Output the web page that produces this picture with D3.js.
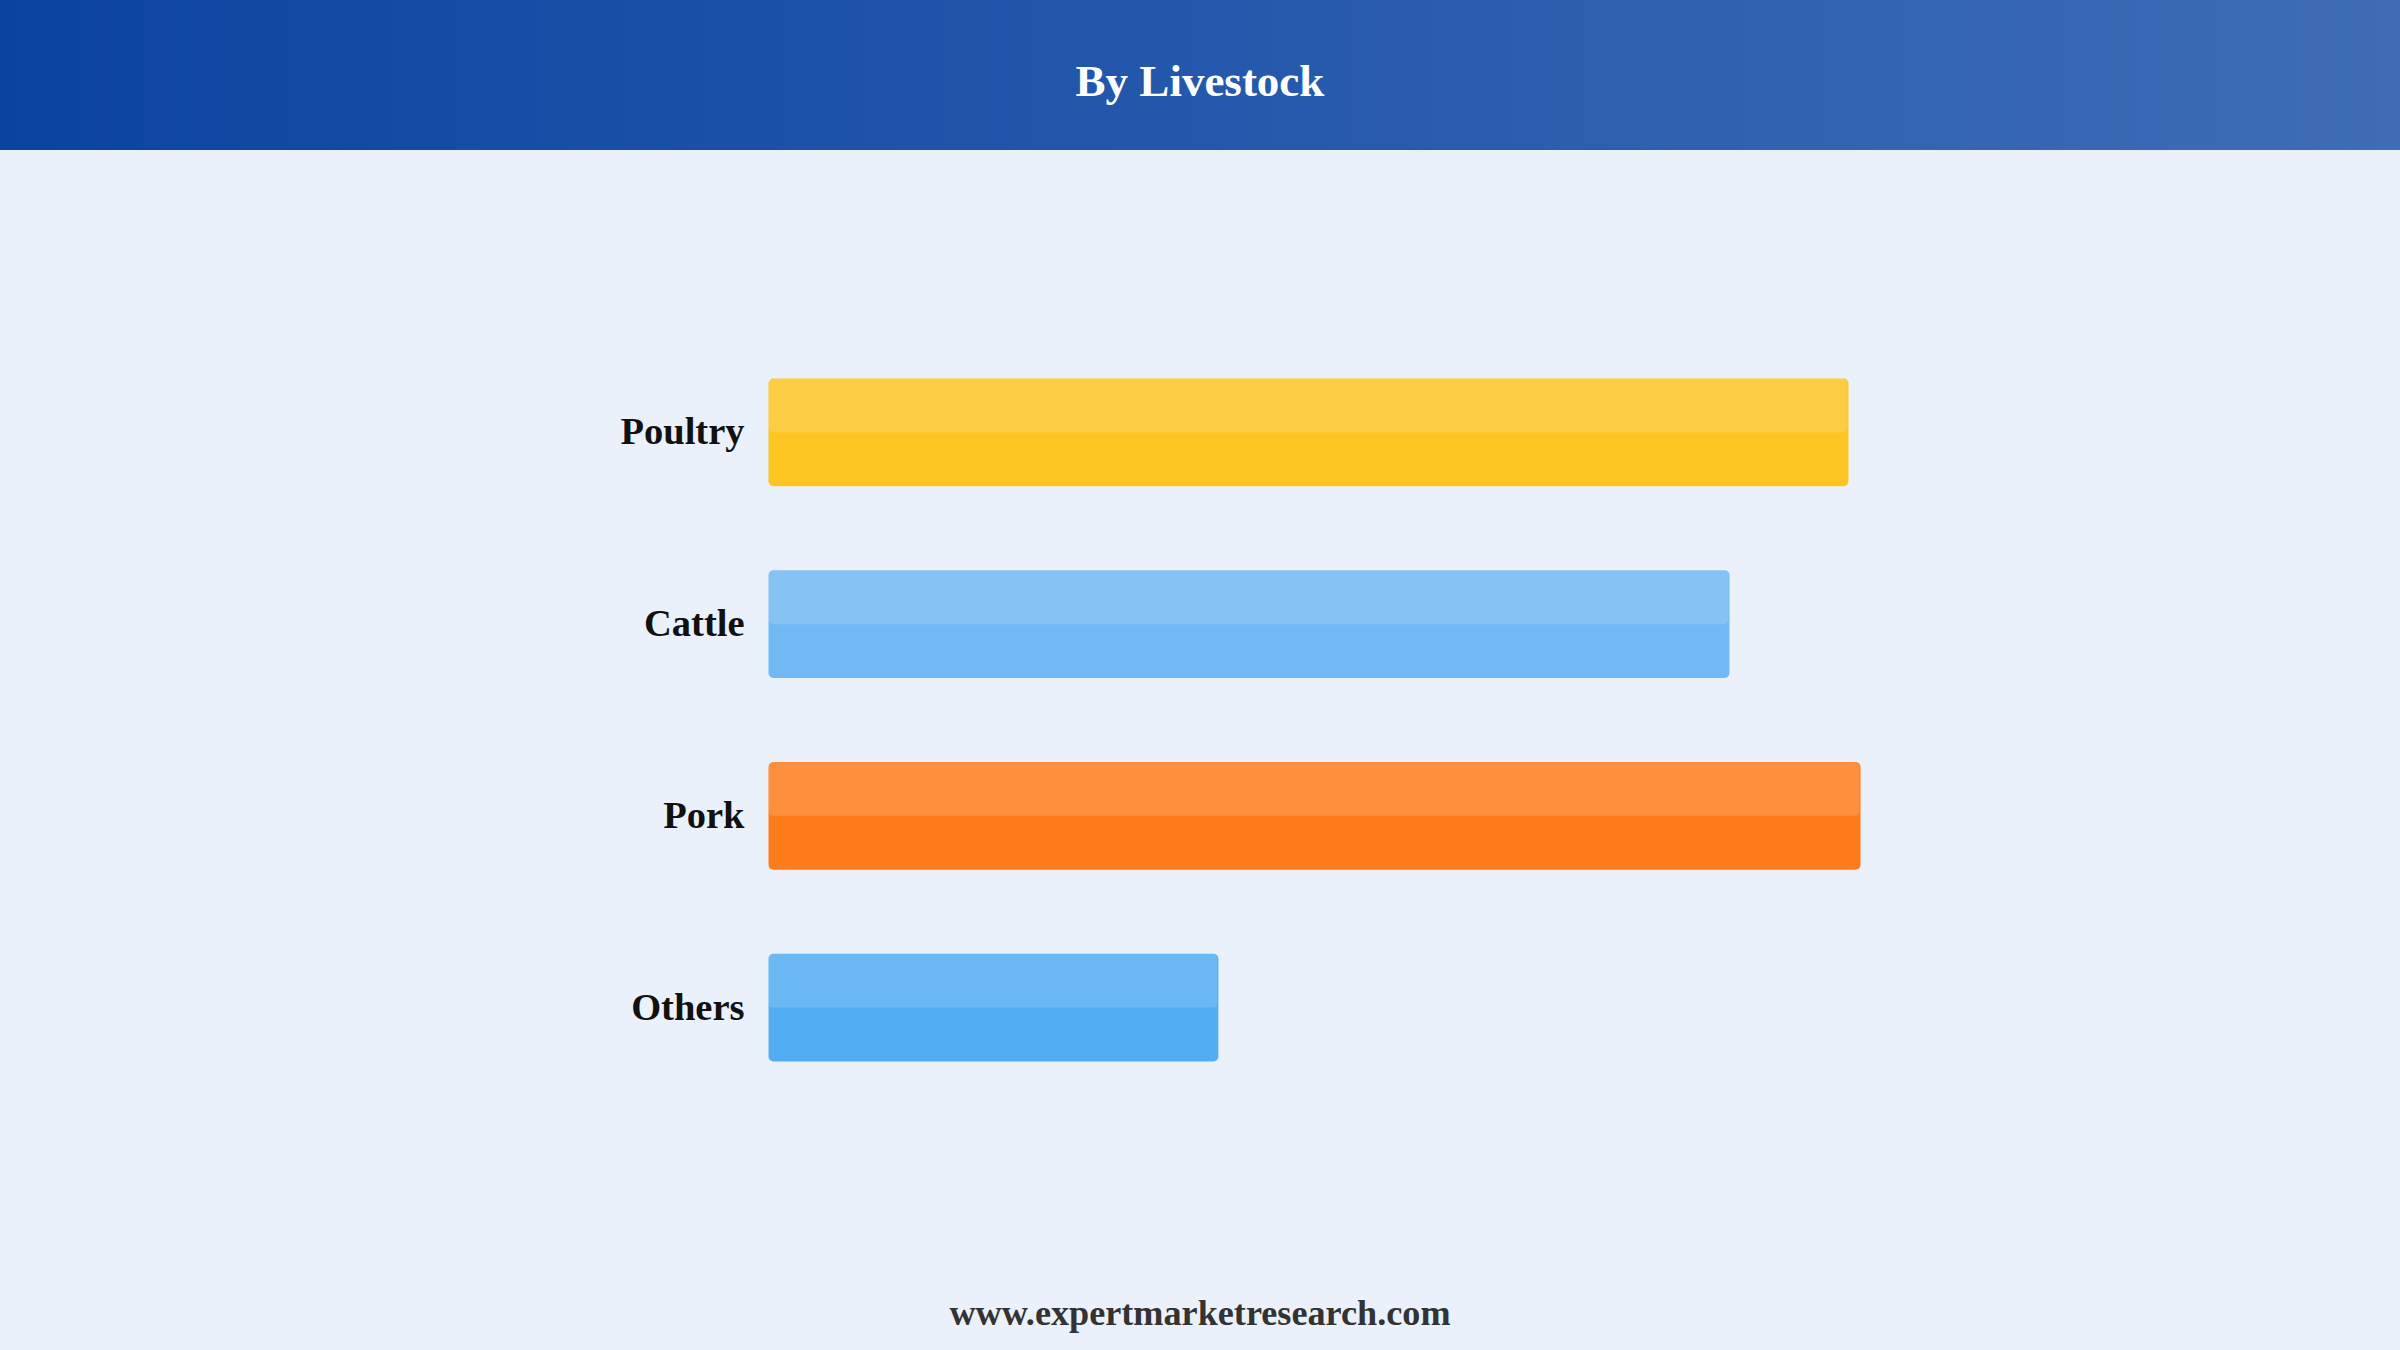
<!DOCTYPE html>
<html>
<head>
<meta charset="utf-8">
<script src="https://cdn.jsdelivr.net/npm/d3@7/dist/d3.min.js"></script>
<style>
  html, body { margin: 0; padding: 0; background: #eaf1fb; }
  svg { display: block; }
</style>
</head>
<body>
<svg id="chart" width="2400" height="1350"></svg>
<script>
const categories = ["Poultry", "Cattle", "Pork", "Others"];
const values = [98.9, 88.0, 100.0, 41.2];
const baseColors = ["#fcc521", "#71b9f4", "#fe7c1a", "#52adf3"];
const titleText = "By Livestock";
const footerText = "www.expertmarketresearch.com";

const W = 2400, H = 1350;
const svg = d3.select("#chart");
const defs = svg.append("defs");

const grad = defs.append("linearGradient").attr("id", "hdr").attr("x1", "0%").attr("x2", "100%").attr("y1", "0%").attr("y2", "0%");
grad.append("stop").attr("offset", "0%").attr("stop-color", "#0b44a0");
grad.append("stop").attr("offset", "50%").attr("stop-color", "#2458ac");
grad.append("stop").attr("offset", "100%").attr("stop-color", "#3e6db5");

svg.append("rect").attr("width", W).attr("height", H).attr("fill", "#eaf1fb");
svg.append("rect").attr("width", W).attr("height", 150).attr("fill", "url(#hdr)");

svg.append("text")
  .attr("x", W / 2).attr("y", 96)
  .attr("text-anchor", "middle")
  .attr("font-family", "Liberation Serif, Times New Roman, serif")
  .attr("font-weight", "bold")
  .attr("font-size", 45)
  .attr("fill", "#ffffff")
  .text(titleText);

const x = d3.scaleLinear().domain([0, 100]).range([768.5, 1860.5]);
const y = d3.scaleBand().domain(categories).range([336, 1104]).paddingInner(0.4375).paddingOuter(0.2215);

const g = svg.append("g");
const bars = g.selectAll("g.bar").data(categories).join("g").attr("class", "bar");

bars.append("rect")
  .attr("x", x(0))
  .attr("y", d => y(d))
  .attr("width", (d, i) => x(values[i]) - x(0))
  .attr("height", y.bandwidth())
  .attr("rx", 5).attr("ry", 5)
  .attr("fill", (d, i) => baseColors[i]);

bars.append("rect")
  .attr("x", x(0))
  .attr("y", d => y(d))
  .attr("width", (d, i) => x(values[i]) - x(0) - 1)
  .attr("height", y.bandwidth() / 2)
  .attr("rx", 5).attr("ry", 5)
  .attr("fill", "#ffffff")
  .attr("fill-opacity", 0.15);

bars.append("text")
  .attr("x", x(0) - 24)
  .attr("y", d => y(d) + y.bandwidth() / 2 + 12)
  .attr("text-anchor", "end")
  .attr("font-family", "Liberation Serif, Times New Roman, serif")
  .attr("font-weight", "bold")
  .attr("font-size", 38.5)
  .attr("fill", "#111111")
  .text(d => d);

svg.append("text")
  .attr("x", W / 2).attr("y", 1325)
  .attr("text-anchor", "middle")
  .attr("font-family", "Liberation Serif, Times New Roman, serif")
  .attr("font-weight", "bold")
  .attr("font-size", 36.2)
  .attr("fill", "#333333")
  .text(footerText);
</script>
</body>
</html>
